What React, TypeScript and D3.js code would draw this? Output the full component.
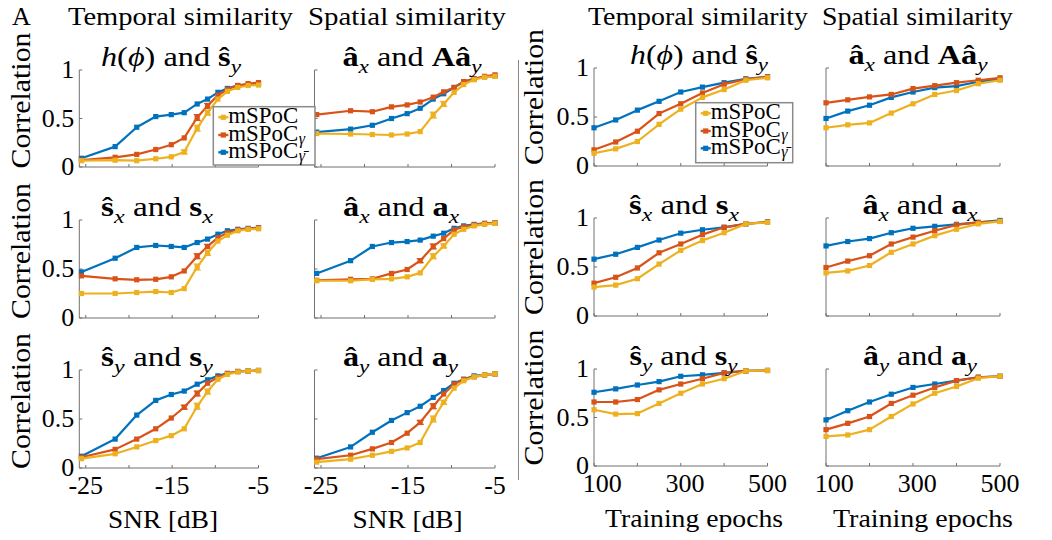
import React from 'react';
import * as d3 from 'd3';

// ---------- data ----------
const snrDb = [-25.5, -21.6, -19.1, -16.9, -15.1, -13.6, -12.1, -10.9, -9.7, -8.6, -7.4, -6.2, -5];
const epochs = [80, 132.5, 185, 237.5, 290, 342.5, 395, 447.5, 500];
const snrTickMarks = [-25, -20, -15, -10, -5];
const snrTickLabels = [-25, -15, -5];
const epochTickMarks = [80, 185, 290, 395, 500];
const epochTickLabels = [100, 300, 500];
const yTicks = [0, 0.5, 1];
const yTickLabels = ['0', '0.5', '1'];

// SNR panels (mSPoC, mSPoC_gamma, mSPoC_gammaBar)
const snrHS_m = [0.065, 0.07, 0.065, 0.085, 0.105, 0.155, 0.40, 0.56, 0.70, 0.78, 0.82, 0.84, 0.845];
const snrHS_g = [0.07, 0.10, 0.13, 0.18, 0.23, 0.30, 0.51, 0.63, 0.74, 0.80, 0.84, 0.86, 0.87];
const snrHS_b = [0.09, 0.21, 0.41, 0.52, 0.54, 0.56, 0.65, 0.70, 0.77, 0.81, 0.84, 0.85, 0.86];
const snrHS_mErr = [0, 0, 0, 0, 0, 0.02, 0.03, 0.025, 0, 0, 0, 0, 0];
const snrHS_gErr = [0, 0, 0, 0, 0, 0, 0.03, 0.025, 0, 0, 0, 0, 0];

const snrAA_m = [0.345, 0.34, 0.335, 0.33, 0.34, 0.365, 0.535, 0.65, 0.77, 0.85, 0.90, 0.925, 0.935];
const snrAA_g = [0.54, 0.58, 0.57, 0.62, 0.64, 0.67, 0.72, 0.775, 0.82, 0.88, 0.91, 0.935, 0.95];
const snrAA_b = [0.36, 0.39, 0.43, 0.50, 0.55, 0.605, 0.70, 0.755, 0.82, 0.88, 0.91, 0.93, 0.94];
const snrAA_mErr = [0, 0, 0, 0, 0, 0, 0.03, 0.025, 0, 0, 0, 0, 0];
const snrAA_gErr = [0, 0, 0, 0, 0, 0, 0, 0, 0, 0, 0, 0, 0];

const snrSx_m = [0.25, 0.25, 0.26, 0.27, 0.26, 0.30, 0.52, 0.665, 0.785, 0.845, 0.89, 0.905, 0.91];
const snrSx_g = [0.43, 0.40, 0.39, 0.395, 0.42, 0.48, 0.63, 0.73, 0.82, 0.87, 0.90, 0.91, 0.92];
const snrSx_b = [0.47, 0.61, 0.72, 0.74, 0.73, 0.72, 0.77, 0.805, 0.855, 0.89, 0.905, 0.915, 0.92];
const snrSx_mErr = [0, 0, 0, 0, 0, 0, 0.03, 0.025, 0, 0, 0, 0, 0];
const snrSx_gErr = [0, 0, 0, 0, 0, 0, 0.025, 0.02, 0, 0, 0, 0, 0];

const snrAx_m = [0.38, 0.38, 0.395, 0.40, 0.42, 0.46, 0.63, 0.735, 0.855, 0.905, 0.94, 0.955, 0.965];
const snrAx_g = [0.385, 0.395, 0.40, 0.455, 0.495, 0.585, 0.73, 0.81, 0.90, 0.93, 0.95, 0.965, 0.97];
const snrAx_b = [0.455, 0.585, 0.73, 0.77, 0.78, 0.795, 0.835, 0.865, 0.915, 0.94, 0.955, 0.965, 0.97];
const snrAx_mErr = [0, 0, 0, 0, 0, 0, 0.025, 0.02, 0, 0, 0, 0, 0];
const snrAx_gErr = [0, 0, 0, 0, 0, 0.02, 0.025, 0, 0, 0, 0, 0, 0];

const snrSy_m = [0.095, 0.145, 0.215, 0.28, 0.33, 0.40, 0.63, 0.78, 0.905, 0.955, 0.98, 0.99, 0.995];
const snrSy_g = [0.11, 0.19, 0.295, 0.40, 0.51, 0.62, 0.76, 0.865, 0.925, 0.965, 0.985, 0.99, 0.995];
const snrSy_b = [0.12, 0.295, 0.54, 0.69, 0.75, 0.785, 0.855, 0.90, 0.94, 0.965, 0.985, 0.99, 0.995];
const snrSy_mErr = [0, 0, 0, 0, 0, 0, 0.03, 0.025, 0, 0, 0, 0, 0];
const snrSy_gErr = [0, 0, 0, 0, 0, 0.02, 0.025, 0, 0, 0, 0, 0, 0];

const snrAy_m = [0.06, 0.09, 0.13, 0.17, 0.205, 0.26, 0.50, 0.67, 0.815, 0.89, 0.93, 0.95, 0.96];
const snrAy_g = [0.09, 0.13, 0.195, 0.26, 0.355, 0.465, 0.63, 0.755, 0.855, 0.905, 0.93, 0.95, 0.96];
const snrAy_b = [0.10, 0.215, 0.365, 0.485, 0.565, 0.63, 0.72, 0.79, 0.865, 0.905, 0.94, 0.95, 0.96];
const snrAy_mErr = [0, 0, 0, 0, 0, 0, 0.03, 0.02, 0, 0, 0, 0, 0];
const snrAy_gErr = [0, 0, 0, 0, 0, 0.02, 0.025, 0, 0, 0, 0, 0, 0];

// Training-epoch panels
const epHS_m = [0.13, 0.175, 0.25, 0.425, 0.58, 0.70, 0.78, 0.875, 0.90];
const epHS_g = [0.165, 0.245, 0.355, 0.535, 0.635, 0.745, 0.835, 0.885, 0.91];
const epHS_b = [0.39, 0.47, 0.57, 0.66, 0.755, 0.805, 0.85, 0.89, 0.91];

const epAA_m = [0.39, 0.42, 0.44, 0.54, 0.635, 0.73, 0.77, 0.84, 0.875];
const epAA_g = [0.645, 0.675, 0.705, 0.73, 0.79, 0.82, 0.85, 0.875, 0.90];
const epAA_b = [0.485, 0.56, 0.62, 0.70, 0.755, 0.80, 0.815, 0.86, 0.885];

const epSx_m = [0.295, 0.315, 0.38, 0.53, 0.67, 0.77, 0.85, 0.94, 0.955];
const epSx_g = [0.335, 0.395, 0.49, 0.645, 0.735, 0.83, 0.905, 0.94, 0.96];
const epSx_b = [0.58, 0.63, 0.70, 0.775, 0.845, 0.88, 0.905, 0.94, 0.96];

const epAx_m = [0.44, 0.46, 0.515, 0.65, 0.735, 0.82, 0.885, 0.94, 0.965];
const epAx_g = [0.495, 0.56, 0.615, 0.735, 0.805, 0.87, 0.93, 0.955, 0.965];
const epAx_b = [0.715, 0.76, 0.79, 0.85, 0.895, 0.915, 0.935, 0.955, 0.975];

const epSy_m = [0.58, 0.535, 0.54, 0.645, 0.75, 0.845, 0.90, 0.98, 0.985];
const epSy_g = [0.66, 0.66, 0.685, 0.785, 0.845, 0.90, 0.96, 0.98, 0.985];
const epSy_b = [0.76, 0.795, 0.835, 0.87, 0.925, 0.94, 0.96, 0.98, 0.985];

const epAy_m = [0.305, 0.32, 0.375, 0.51, 0.64, 0.75, 0.82, 0.905, 0.925];
const epAy_g = [0.375, 0.44, 0.51, 0.645, 0.73, 0.81, 0.88, 0.915, 0.925];
const epAy_b = [0.475, 0.57, 0.66, 0.74, 0.81, 0.845, 0.88, 0.915, 0.925];

const seriesKeys = ['gammaBar', 'gamma', 'mspoc'];
const COLORS: Record<string, string> = { mspoc: '#EDB120', gamma: '#D95319', gammaBar: '#0072BD' };

// ---------- text helpers ----------
type Seg = { t: string; s?: 'i' | 'b'; sub?: boolean };
const FONT = "'Liberation Serif', 'DejaVu Serif', serif";
const txt = { fontFamily: FONT };

function RichText(props: { segs: Seg[]; x: number; y: number; size: number; anchor?: string; length?: number }) {
  const { segs, x, y, size, anchor, length } = props;
  let inSub = false;
  const shift = size * 0.26;
  const kids = segs.map((sg, i) => {
    let dy: number | undefined;
    if (sg.sub && !inSub) { dy = shift; inSub = true; }
    else if (!sg.sub && inSub) { dy = -shift; inSub = false; }
    return (
      <tspan key={i} dy={dy} fontStyle={sg.s === 'i' ? 'italic' : 'normal'}
        fontWeight={sg.s === 'b' ? 'bold' : 'normal'} fontSize={sg.sub ? size * 0.72 : size}>{sg.t}</tspan>
    );
  });
  return (
    <text x={x} y={y} textAnchor={anchor || 'middle'} fontSize={size} fill="#000"
      textLength={length} lengthAdjust={length ? 'spacingAndGlyphs' : undefined}
      style={{ whiteSpace: 'pre', fontFamily: FONT }}>
      {kids}
    </text>
  );
}

const T_HS: Seg[] = [{ t: 'h', s: 'i' }, { t: '(' }, { t: 'ϕ', s: 'i' }, { t: ') and ' }, { t: 'ŝ', s: 'b' }, { t: 'y', s: 'i', sub: true }];
const T_AA: Seg[] = [{ t: 'â', s: 'b' }, { t: 'x', s: 'i', sub: true }, { t: ' and ' }, { t: 'Aâ', s: 'b' }, { t: 'y', s: 'i', sub: true }];
const T_SX: Seg[] = [{ t: 'ŝ', s: 'b' }, { t: 'x', s: 'i', sub: true }, { t: ' and ' }, { t: 's', s: 'b' }, { t: 'x', s: 'i', sub: true }];
const T_AX: Seg[] = [{ t: 'â', s: 'b' }, { t: 'x', s: 'i', sub: true }, { t: ' and ' }, { t: 'a', s: 'b' }, { t: 'x', s: 'i', sub: true }];
const T_SY: Seg[] = [{ t: 'ŝ', s: 'b' }, { t: 'y', s: 'i', sub: true }, { t: ' and ' }, { t: 's', s: 'b' }, { t: 'y', s: 'i', sub: true }];
const T_AY: Seg[] = [{ t: 'â', s: 'b' }, { t: 'y', s: 'i', sub: true }, { t: ' and ' }, { t: 'a', s: 'b' }, { t: 'y', s: 'i', sub: true }];

const legendNames = ['mSPoC', 'mSPoC', 'mSPoC'];
const legendSubs = ['', 'γ', 'γ̄'];
const legendKeys = ['mspoc', 'gamma', 'gammaBar'];

// ---------- layout ----------
const AXIS = '#707070';
type Panel = {
  xl: number; xr: number; yt: number; yb: number; kind: 'snr' | 'ep';
  data: Record<string, number[]>; err?: Record<string, number[]>; title: Seg[]; tcx: number; tlen: number;
  yLabels: boolean; xLabels: boolean;
};

const colSnr = [[79.3, 258.5], [314.5, 495]];
const colEp = [[594, 767.5], [826, 1000]];
const rowsL = [[70, 167], [220, 318], [370, 468]];
const rowsR = [[68, 166], [218, 316], [369, 466]];

const panels: Panel[] = [
  { xl: colSnr[0][0], xr: colSnr[0][1], yt: rowsL[0][0], yb: rowsL[0][1], kind: 'snr', data: { mspoc: snrHS_m, gamma: snrHS_g, gammaBar: snrHS_b }, err: { mspoc: snrHS_mErr, gamma: snrHS_gErr }, title: T_HS, tcx: 171, tlen: 140, yLabels: true, xLabels: false },
  { xl: colSnr[1][0], xr: colSnr[1][1], yt: rowsL[0][0], yb: rowsL[0][1], kind: 'snr', data: { mspoc: snrAA_m, gamma: snrAA_g, gammaBar: snrAA_b }, err: { mspoc: snrAA_mErr, gamma: snrAA_gErr }, title: T_AA, tcx: 412, tlen: 139, yLabels: false, xLabels: false },
  { xl: colSnr[0][0], xr: colSnr[0][1], yt: rowsL[1][0], yb: rowsL[1][1], kind: 'snr', data: { mspoc: snrSx_m, gamma: snrSx_g, gammaBar: snrSx_b }, err: { mspoc: snrSx_mErr, gamma: snrSx_gErr }, title: T_SX, tcx: 157, tlen: 112, yLabels: true, xLabels: false },
  { xl: colSnr[1][0], xr: colSnr[1][1], yt: rowsL[1][0], yb: rowsL[1][1], kind: 'snr', data: { mspoc: snrAx_m, gamma: snrAx_g, gammaBar: snrAx_b }, err: { mspoc: snrAx_mErr, gamma: snrAx_gErr }, title: T_AX, tcx: 401, tlen: 116, yLabels: false, xLabels: false },
  { xl: colSnr[0][0], xr: colSnr[0][1], yt: rowsL[2][0], yb: rowsL[2][1], kind: 'snr', data: { mspoc: snrSy_m, gamma: snrSy_g, gammaBar: snrSy_b }, err: { mspoc: snrSy_mErr, gamma: snrSy_gErr }, title: T_SY, tcx: 157, tlen: 112, yLabels: true, xLabels: true },
  { xl: colSnr[1][0], xr: colSnr[1][1], yt: rowsL[2][0], yb: rowsL[2][1], kind: 'snr', data: { mspoc: snrAy_m, gamma: snrAy_g, gammaBar: snrAy_b }, err: { mspoc: snrAy_mErr, gamma: snrAy_gErr }, title: T_AY, tcx: 400.5, tlen: 115, yLabels: false, xLabels: true },
  { xl: colEp[0][0], xr: colEp[0][1], yt: rowsR[0][0], yb: rowsR[0][1], kind: 'ep', data: { mspoc: epHS_m, gamma: epHS_g, gammaBar: epHS_b }, title: T_HS, tcx: 699, tlen: 138, yLabels: true, xLabels: false },
  { xl: colEp[1][0], xr: colEp[1][1], yt: rowsR[0][0], yb: rowsR[0][1], kind: 'ep', data: { mspoc: epAA_m, gamma: epAA_g, gammaBar: epAA_b }, title: T_AA, tcx: 918, tlen: 139, yLabels: false, xLabels: false },
  { xl: colEp[0][0], xr: colEp[0][1], yt: rowsR[1][0], yb: rowsR[1][1], kind: 'ep', data: { mspoc: epSx_m, gamma: epSx_g, gammaBar: epSx_b }, title: T_SX, tcx: 684, tlen: 110, yLabels: true, xLabels: false },
  { xl: colEp[1][0], xr: colEp[1][1], yt: rowsR[1][0], yb: rowsR[1][1], kind: 'ep', data: { mspoc: epAx_m, gamma: epAx_g, gammaBar: epAx_b }, title: T_AX, tcx: 920, tlen: 115, yLabels: false, xLabels: false },
  { xl: colEp[0][0], xr: colEp[0][1], yt: rowsR[2][0], yb: rowsR[2][1], kind: 'ep', data: { mspoc: epSy_m, gamma: epSy_g, gammaBar: epSy_b }, title: T_SY, tcx: 683.5, tlen: 108, yLabels: true, xLabels: true },
  { xl: colEp[1][0], xr: colEp[1][1], yt: rowsR[2][0], yb: rowsR[2][1], kind: 'ep', data: { mspoc: epAy_m, gamma: epAy_g, gammaBar: epAy_b }, title: T_AY, tcx: 920, tlen: 114, yLabels: false, xLabels: true },
];

function PanelView({ p }: { p: Panel }) {
  const isSnr = p.kind === 'snr';
  const xs = d3.scaleLinear().domain(isSnr ? [-25.75, -5] : [80, 500]).range([p.xl, p.xr]);
  const ys = d3.scaleLinear().domain([0, 1]).range([p.yb, p.yt]);
  const xv = isSnr ? snrDb : epochs;
  const marks = isSnr ? snrTickMarks : epochTickMarks;
  const labels = isSnr ? snrTickLabels : epochTickLabels;
  const line = d3.line<number>().x((_, i) => xs(xv[i])).y((d) => ys(d));
  return (
    <g>
      <line x1={p.xl} x2={p.xr} y1={p.yb} y2={p.yb} stroke={AXIS} strokeWidth={1} />
      <line x1={p.xl} x2={p.xl} y1={p.yb} y2={p.yt} stroke={AXIS} strokeWidth={1} />
      {marks.map((t) => (
        <line key={'xt' + t} x1={xs(t)} x2={xs(t)} y1={p.yb} y2={p.yb - 3} stroke={AXIS} strokeWidth={1} />
      ))}
      {yTicks.map((t) => (
        <line key={'yt' + t} x1={p.xl} x2={p.xl + 3} y1={ys(t)} y2={ys(t)} stroke={AXIS} strokeWidth={1} />
      ))}
      {p.yLabels && yTicks.map((t, i) => (
        <text key={'yl' + t} x={p.xl - 5} y={ys(t) + 8} textAnchor="end" fontSize={26} style={txt}>{yTickLabels[i]}</text>
      ))}
      {p.xLabels && labels.map((t) => (
        <text key={'xl' + t} x={xs(t)} y={p.yb + 26} textAnchor="middle" fontSize={26} style={txt}>{String(t)}</text>
      ))}
      {seriesKeys.map((k) => (
        <g key={k}>
          <path d={line(p.data[k]) || ''} fill="none" stroke={COLORS[k]} strokeWidth={2.2} strokeLinejoin="round" />
          {p.data[k].map((v, i) => {
            const e = p.err && p.err[k] ? p.err[k][i] : 0;
            const cx = xs(xv[i]);
            return (
              <g key={i}>
                {e > 0 && (
                  <g stroke={COLORS[k]} strokeWidth={1.3}>
                    <line x1={cx} x2={cx} y1={ys(v - e)} y2={ys(v + e)} />
                    <line x1={cx - 3.5} x2={cx + 3.5} y1={ys(v - e)} y2={ys(v - e)} />
                    <line x1={cx - 3.5} x2={cx + 3.5} y1={ys(v + e)} y2={ys(v + e)} />
                  </g>
                )}
                <rect x={cx - 2.6} y={ys(v) - 2.6} width={5.2} height={5.2} fill={COLORS[k]} />
              </g>
            );
          })}
        </g>
      ))}
      <RichText segs={p.title} x={p.tcx} y={p.yt - 4} size={27} length={p.tlen} />
    </g>
  );
}

function Legend({ x0, y0, w, h }: { x0: number; y0: number; w: number; h: number }) {
  const baselines = [16.6, 34.3, 51.6];
  const nameW = 70;
  return (
    <g>
      <rect x={x0} y={y0} width={w} height={h} fill="#fff" stroke="#8a8a8a" strokeWidth={1.5} />
      {legendKeys.map((k, i) => {
        const by = y0 + baselines[i];
        const ly = by - 6;
        return (
          <g key={k}>
            <line x1={x0 + 5} x2={x0 + 15} y1={ly} y2={ly} stroke={COLORS[k]} strokeWidth={2.4} />
            <rect x={x0 + 7.4} y={ly - 2.6} width={5.2} height={5.2} fill={COLORS[k]} />
            <text x={x0 + 15} y={by} fontSize={23} style={txt} textLength={nameW} lengthAdjust="spacingAndGlyphs">{legendNames[i]}</text>
            {legendSubs[i] && (
              <text x={x0 + 15 + nameW + 0.5} y={by + 3} fontSize={16} fontStyle="italic" style={txt}>{legendSubs[i]}</text>
            )}
          </g>
        );
      })}
    </g>
  );
}

function YLabel({ x, cy }: { x: number; cy: number }) {
  return (
    <text transform={`translate(${x},${cy}) rotate(-90)`} textAnchor="middle" fontSize={27} style={txt}
      textLength={136} lengthAdjust="spacingAndGlyphs">Correlation</text>
  );
}

export default function App() {
  const headers = [
    { t: 'Temporal similarity', x: 68, w: 225 },
    { t: 'Spatial similarity', x: 308, w: 198 },
    { t: 'Temporal similarity', x: 588, w: 220 },
    { t: 'Spatial similarity', x: 822, w: 191 },
  ];
  return (
    <svg width={1052} height={540} viewBox="0 0 1052 540" style={{ position: 'absolute', left: 0, top: 0, background: '#fff' }}>
      <rect x={0} y={0} width={1052} height={540} fill="#fff" />
      <text x={12} y={25} fontSize={26} style={txt}>A</text>
      {headers.map((h, i) => (
        <text key={i} x={h.x} y={25} fontSize={26} style={txt} textLength={h.w} lengthAdjust="spacingAndGlyphs">{h.t}</text>
      ))}
      {rowsL.map((r, i) => <YLabel key={'yl' + i} x={30} cy={(r[0] + r[1]) / 2 - 18} />)}
      {rowsR.map((r, i) => <YLabel key={'yr' + i} x={543} cy={(r[0] + r[1]) / 2 - 20} />)}
      <line x1={518.5} x2={518.5} y1={60} y2={480} stroke="#888" strokeWidth={1} />
      {panels.map((p, i) => <PanelView key={i} p={p} />)}
      <Legend x0={213.3} y0={106.7} w={101.7} h={58.3} />
      <Legend x0={695.7} y0={102.7} w={97} h={60} />
      <text x={163} y={528} textAnchor="middle" fontSize={26} style={txt} textLength={110} lengthAdjust="spacingAndGlyphs">SNR [dB]</text>
      <text x={407.5} y={528} textAnchor="middle" fontSize={26} style={txt} textLength={110} lengthAdjust="spacingAndGlyphs">SNR [dB]</text>
      <text x={694} y={527} textAnchor="middle" fontSize={26} style={txt} textLength={178} lengthAdjust="spacingAndGlyphs">Training epochs</text>
      <text x={923} y={527} textAnchor="middle" fontSize={26} style={txt} textLength={180} lengthAdjust="spacingAndGlyphs">Training epochs</text>
    </svg>
  );
}
